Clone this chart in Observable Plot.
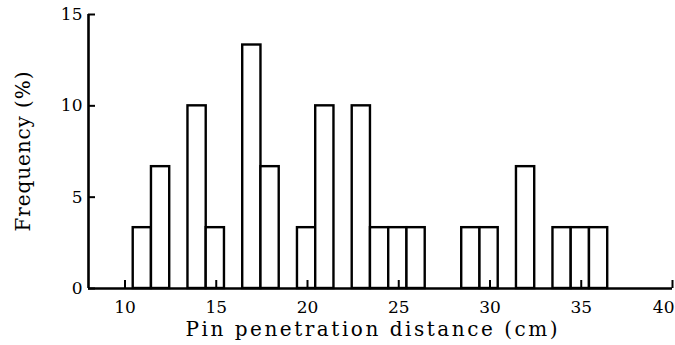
<!DOCTYPE html>
<html>
<head>
<meta charset="utf-8">
<script src="https://cdn.jsdelivr.net/npm/d3@7"></script>
<script src="https://cdn.jsdelivr.net/npm/@observablehq/plot@0.6"></script>
<style>
  html, body { margin: 0; padding: 0; background: #fff; }
  #chart svg { display: block; }
</style>
</head>
<body>
<div id="chart"></div>
<script>
// Bin centres (cm) and frequency (%) — 30 samples, each = 3.33 %
const binCenters = [11, 12, 13, 14, 15, 16, 17, 18, 19, 20, 21, 22, 23, 24, 25, 26, 27, 28, 29, 30, 31, 32, 33, 34, 35, 36];
const frequency  = [3.33, 6.67, 0, 10, 3.33, 0, 13.33, 6.67, 0, 3.33, 10, 0, 10, 3.33, 3.33, 3.33, 0, 0, 3.33, 3.33, 0, 6.67, 0, 3.33, 3.33, 3.33];
const xTicks = [10, 15, 20, 25, 30, 35, 40];
const yTicks = [0, 5, 10, 15];
const xLabel = "Pin penetration distance (cm)";
const yLabel = "Frequency (%)";

const binWidth = 1;
const binShift = -0.05;
const bins = binCenters.map((c, i) => ({
  x1: c - binWidth / 2 + binShift,
  x2: c + binWidth / 2 + binShift,
  y: frequency[i]
})).filter(d => d.y > 0);

const serif = "DejaVu Serif, Liberation Serif, serif";

const chart = Plot.plot({
  width: 675,
  height: 345,
  marginLeft: 88,
  marginRight: 3,
  marginTop: 14,
  marginBottom: 57,
  x: { domain: [8, 40] },
  y: { domain: [0, 15] },
  style: { fontFamily: serif, background: "#fff", color: "#000" },
  marks: [
    Plot.rectY(bins, { x1: "x1", x2: "x2", y: "y", fill: "#fff", stroke: "#000", strokeWidth: 2.4 }),
    // axis lines
    Plot.ruleY([0], { stroke: "#000", strokeWidth: 2.6 }),
    Plot.ruleX([8], { y1: 0, y2: 15, stroke: "#000", strokeWidth: 2.6 }),
    // inward ticks
    Plot.axisX({ ticks: xTicks, tickSize: -8, tickFormat: () => "", label: null, strokeWidth: 2 }),
    Plot.axisY({ ticks: yTicks, tickSize: -7, tickFormat: () => "", label: null, strokeWidth: 2 }),
    // tick labels
    Plot.axisX({ ticks: xTicks, tickSize: 0, tickPadding: 12, label: null, fontSize: 17, tickFormat: d => String(d) }),
    Plot.axisY({ ticks: yTicks, tickSize: 0, tickPadding: 6, label: null, fontSize: 17, tickFormat: d => String(d) }),
    // axis titles
    Plot.text([xLabel], { frameAnchor: "bottom", lineAnchor: "middle", textAnchor: "middle", dy: 41, dx: -9, fontSize: 20, fontFamily: serif, fill: "#000" }),
    Plot.text([yLabel], { frameAnchor: "left", lineAnchor: "middle", textAnchor: "middle", dx: -65, rotate: -90, fontSize: 20, fontFamily: serif, fill: "#000" })
  ]
});

d3.select(chart).selectAll("text")
  .filter(function () { return this.textContent === xLabel; })
  .attr("textLength", 372).attr("lengthAdjust", "spacing");
d3.select(chart).selectAll("text")
  .filter(function () { return this.textContent === yLabel; })
  .attr("textLength", 160).attr("lengthAdjust", "spacing");
d3.select(chart).selectAll("text")
  .filter(function () { return this.textContent === "40"; })
  .attr("text-anchor", "end").attr("dx", 2);

document.getElementById("chart").appendChild(chart);
</script>
</body>
</html>
